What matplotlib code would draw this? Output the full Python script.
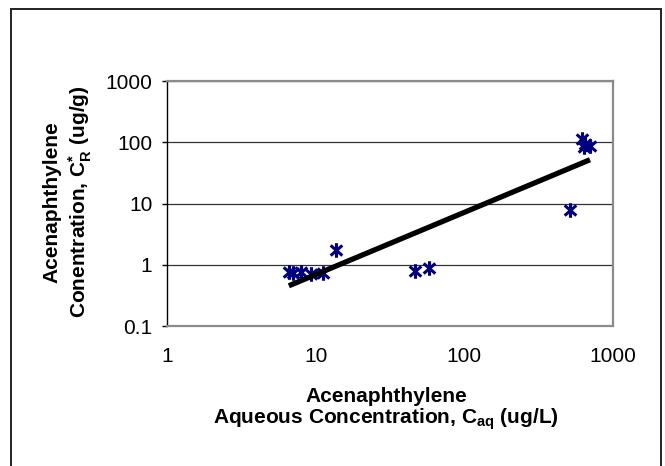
import matplotlib
matplotlib.use('Agg')
import numpy as np
import matplotlib.pyplot as plt
from matplotlib.path import Path
from matplotlib.patches import Rectangle
from matplotlib.ticker import FixedLocator, FixedFormatter, NullLocator

plt.rcParams['font.family'] = ['Liberation Sans', 'DejaVu Sans']
plt.rcParams['mathtext.fontset'] = 'custom'
plt.rcParams['mathtext.rm'] = 'Liberation Sans:bold'
plt.rcParams['mathtext.it'] = 'Liberation Sans:bold'
plt.rcParams['mathtext.bf'] = 'Liberation Sans:bold'

###############################################################################
# Data (aqueous vs sorbed concentration)

c_aq = [6.6, 7.0, 8.0, 9.3, 11.2, 13.8, 46.5, 58.0, 513.0, 620.0, 650.0, 700.0, 640.0]
c_r = [0.75, 0.72, 0.75, 0.70, 0.72, 1.76, 0.78, 0.88, 7.9, 115.0, 95.0, 88.0, 85.0]

x_ticks = [1, 10, 100, 1000]
x_ticklabels = ['1', '10', '100', '1000']
y_ticks = [0.1, 1, 10, 100, 1000]
y_ticklabels = ['0.1', '1', '10', '100', '1000']

###############################################################################
# Power-law trendline (fit in log-log space, as Excel does)

lx = np.log10(c_aq)
ly = np.log10(c_r)
slope, icpt = np.polyfit(lx, ly, 1)
x_fit = np.array([min(c_aq), max(c_aq)])
y_fit = 10 ** icpt * x_fit ** slope

# Excel-like asterisk marker: vertical bar plus an X
star = Path([(0, -1), (0, 1), (-0.8, -0.7), (0.8, 0.7),
             (-0.8, 0.7), (0.8, -0.7)],
            [Path.MOVETO, Path.LINETO, Path.MOVETO, Path.LINETO,
             Path.MOVETO, Path.LINETO])

W, H = 665, 466
fig = plt.figure(figsize=(W / 100, H / 100), dpi=100)
ax = fig.add_axes([167 / W, 1 - 326 / H, (613 - 167) / W, (326 - 81) / H])

ax.plot(c_aq, c_r, linestyle='none', marker=star, markersize=10.5,
        markeredgewidth=2.2, color='#000080', zorder=3)
ax.plot(x_fit, y_fit, color='black', linewidth=3.8, solid_capstyle='butt',
        zorder=4)

ax.set_xscale('log')
ax.set_yscale('log')
ax.set_xlim(1, 1000)
ax.set_ylim(0.1, 1000)

ax.xaxis.set_major_locator(FixedLocator(x_ticks))
ax.xaxis.set_major_formatter(FixedFormatter(x_ticklabels))
ax.xaxis.set_minor_locator(NullLocator())
ax.yaxis.set_major_locator(FixedLocator(y_ticks))
ax.yaxis.set_major_formatter(FixedFormatter(y_ticklabels))
ax.yaxis.set_minor_locator(NullLocator())

ax.tick_params(axis='x', length=0, pad=15, labelsize=15)
ax.tick_params(axis='y', length=3.5, width=1, direction='out', pad=7,
               labelsize=15, color='black')

ax.grid(axis='y', which='major', color='#333333', linewidth=0.9)
ax.set_axisbelow(True)

for side in ['top', 'right', 'bottom']:
    ax.spines[side].set_color('#8c8c8c')
    ax.spines[side].set_linewidth(1.6)
ax.spines['left'].set_color('black')
ax.spines['left'].set_linewidth(1.0)

# axis titles
fig.text(386 / W, 1 - 397 / H, 'Acenaphthylene', ha='center', va='center',
         fontsize=15, fontweight='bold')
fig.text(386 / W, 1 - 419 / H, r'Aqueous Concentration, C$_{\mathrm{aq}}$ (ug/L)',
         ha='center', va='center', fontsize=15, fontweight='bold')
fig.text(52 / W, 1 - 202 / H, 'Acenaphthylene', ha='center', va='center',
         rotation=90, fontsize=15, fontweight='bold')
fig.text(80 / W, 1 - 202 / H, r'Conentration, C$^{*}_{\mathrm{R}}$ (ug/g)',
         ha='center', va='center', rotation=90, fontsize=15, fontweight='bold')

# chart area border
fig.patches.append(Rectangle((11 / W, -0.05), (661 - 11) / W, 1.05 - 9 / H,
                             transform=fig.transFigure, fill=False,
                             edgecolor='#222222', linewidth=1.4))

fig.savefig('out.png', dpi=100)
